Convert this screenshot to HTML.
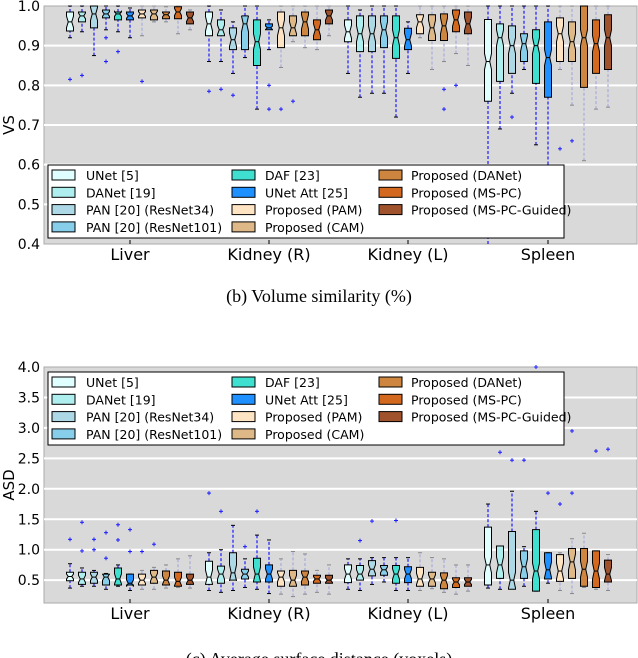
<!DOCTYPE html>
<html><head><meta charset="utf-8"><style>
body{margin:0;background:#fff;}
svg{display:block;font-family:"DejaVu Sans","Liberation Sans",sans-serif;}
.cap{font-family:"Liberation Serif",serif;font-size:18px;}
</style></head><body>
<svg id="c" width="638" height="658"></svg>
<script>
const categories=["Liver","Kidney (R)","Kidney (L)","Spleen"];
const methods=["UNet [5]","DANet [19]","PAN [20] (ResNet34)","PAN [20] (ResNet101)","DAF [23]","UNet Att [25]","Proposed (PAM)","Proposed (CAM)","Proposed (DANet)","Proposed (MS-PC)","Proposed (MS-PC-Guided)"];
const colors=["#e0ffff","#afeeee","#add8e6","#87ceeb","#40e0d0","#1e90ff","#ffe4c4","#deb887","#cd853f","#d2691e","#a0522d"];
// [lowWhisker,q1,median,q3,highWhisker,...outliers]
const vsLiver=[[.92,.937,.96,.985,1,.815],[.935,.96,.975,.985,1,.825],[.875,.945,.98,1,1],[.94,.97,.98,.99,1,.92,.86],[.935,.965,.98,.985,1,.885],[.92,.965,.975,.985,.995],[.925,.97,.98,.99,1,.81],[.96,.965,.98,.99,1],[.96,.968,.978,.985,.998],[.93,.968,.985,.998,1],[.94,.955,.97,.985,.99]];
const vsKidR=[[.86,.925,.955,.985,1,.785],[.86,.925,.94,.965,.99,.79],[.83,.89,.915,.945,.96,.775],[.87,.89,.955,.975,1],[.74,.85,.91,.965,1],[.89,.94,.945,.955,.965,.8,.74],[.845,.895,.945,.985,1,.74],[.91,.925,.945,.975,1,.76],[.895,.925,.96,.985,1],[.89,.915,.94,.965,1],[.925,.955,.975,.99,1]];
const vsKidL=[[.83,.91,.935,.965,1],[.77,.885,.93,.975,.99],[.78,.885,.93,.975,1],[.78,.895,.94,.975,1],[.72,.868,.92,.975,1],[.83,.89,.915,.944,.96],[.92,.93,.96,.978,1],[.84,.913,.945,.978,1],[.86,.913,.95,.98,1,.79,.74],[.88,.935,.965,.99,1,.8],[.85,.93,.955,.985,1]];
const vsSpleen=[[.4,.76,.86,.966,1],[.69,.81,.92,.955,1],[.78,.83,.9,.95,1,.72],[.84,.86,.905,.93,1],[.65,.805,.9,.94,1],[.55,.77,.87,.96,1],[.84,.86,.93,.97,1,.64],[.75,.86,.91,.96,1,.66],[.61,.795,.92,1,1],[.74,.83,.905,.965,1],[.745,.84,.92,.978,1]];
const asdLiver=[[.37,.49,.56,.63,.77,1.17],[.4,.43,.52,.63,.7,1.45,.98],[.4,.45,.55,.63,.66,1.17,1.0],[.35,.42,.55,.6,.61,1.28,.86],[.4,.42,.52,.7,.75,1.41,1.16],[.33,.42,.45,.6,.6,1.33,.97],[.35,.42,.5,.6,.66,.97],[.35,.45,.55,.66,.71,1.09],[.37,.42,.5,.65,.75],[.38,.4,.48,.63,.85],[.37,.43,.5,.6,.9]];
const asdKidR=[[.33,.43,.55,.81,.95,1.93],[.3,.45,.6,.73,1.0,1.63],[.33,.5,.62,.95,1.4],[.38,.52,.6,.68,.85,1.05],[.35,.47,.6,.86,1.24,1.63],[.28,.47,.6,.75,1.16],[.27,.4,.55,.65,.85],[.23,.4,.5,.66,.97],[.27,.42,.55,.65,.93],[.3,.45,.52,.58,.66],[.27,.45,.5,.58,.75]];
const asdKidL=[[.35,.46,.6,.75,.85],[.33,.5,.6,.74,.85,1.15],[.43,.57,.68,.82,.87,1.47],[.47,.58,.67,.74,.87],[.33,.45,.6,.74,.87,1.48],[.33,.46,.6,.72,.87],[.33,.4,.52,.71,.95],[.36,.4,.52,.63,.87],[.3,.36,.5,.62,.85],[.27,.38,.47,.54,.75],[.32,.4,.47,.54,.75]];
const asdSpleen=[[.37,.42,.75,1.37,1.75],[.35,.53,.75,1.06,1.06,2.6],[.37,.35,.5,1.3,1.96,2.47],[.4,.53,.72,.98,1.05,2.47],[.32,.32,.65,1.33,1.63,4.0],[.45,.52,.67,.95,.95,1.93,3.5],[.33,.48,.65,.92,.95,1.75],[.28,.53,.8,1.02,1.18,1.93,2.95],[.38,.4,.68,1.02,1.27],[.35,.38,.65,.98,.98,2.62],[.33,.47,.6,.83,.92,2.65]];
const vsTicks=[1.0,0.9,0.8,0.7,0.6,0.5,0.4];
const asdTicks=[4.0,3.5,3.0,2.5,2.0,1.5,1.0,0.5];

const NS="http://www.w3.org/2000/svg";
const svg=document.getElementById('c');
function el(t,a,p){const e=document.createElementNS(NS,t);for(const k in a)e.setAttribute(k,a[k]);(p||svg).appendChild(e);return e;}
const X0=44,X1=637,catX=[130,269,408,548],step=12,bw=7;
function panel(name,top,bot,vmax,vmin,ticks,data,ylabel,legY){
  const g=el('g',{});
  
  
  const y=v=>top+(vmax-v)/(vmax-vmin)*(bot-top);
  el('rect',{x:X0,y:top,width:X1-X0,height:bot-top,fill:'#d9d9d9',stroke:'#aaa'},g);
  ticks.forEach(t=>{
    if(t<vmax&&t>vmin){const l=el('line',{x1:X0,x2:X1,y1:y(t),y2:y(t),stroke:'#fff','stroke-width':2},g);
    }
    const tx=el('text',{x:40,y:y(t)+5,'text-anchor':'end','font-size':14,fill:'#000'},g);tx.textContent=t.toFixed(1);
    
  });
  const yl=el('text',{transform:`translate(14,${(top+bot)/2}) rotate(-90)`,'text-anchor':'middle','font-size':15},g);yl.textContent=ylabel;
  
  categories.forEach((c,ci)=>{
    const t=el('text',{x:catX[ci],y:bot+16,'text-anchor':'middle','font-size':16},g);t.textContent=c;
    
    el('line',{x1:catX[ci],x2:catX[ci],y1:bot,y2:bot-4,stroke:'#000'},g);
    data[ci].forEach((d,mi)=>{
      const cx=catX[ci]+(mi-5)*step;
      const wc=mi<6?'#1a1aff':'#a9a9dd';
      const bg=el('g',{},g);
      
      
      const clip=v=>Math.max(top,Math.min(bot,y(v)));
      el('line',{x1:cx,x2:cx,y1:clip(d[0]),y2:clip(d[1]),stroke:wc,'stroke-dasharray':'3,2','stroke-width':1.2},bg);
      el('line',{x1:cx,x2:cx,y1:clip(d[3]),y2:clip(d[4]),stroke:wc,'stroke-dasharray':'3,2','stroke-width':1.2},bg);
      [d[0],d[4]].forEach(v=>{if(v>vmin&&v<=vmax)el('line',{x1:cx-2,x2:cx+2,y1:y(v),y2:y(v),stroke:mi<6?'#000':'#888'},bg);});
      const q1=y(d[1]),q3=y(d[3]),m=y(d[2]),h=Math.min(Math.abs(q1-q3)*0.3,8),hw=bw/2,n=hw*0.5;
      const pts=[[cx-hw,q3],[cx+hw,q3],[cx+hw,m-h],[cx+n,m],[cx+hw,m+h],[cx+hw,q1],[cx-hw,q1],[cx-hw,m+h],[cx-n,m],[cx-hw,m-h]];
      el('polygon',{points:pts.map(p=>p.join(',')).join(' '),fill:colors[mi],stroke:'#000','stroke-width':1},bg);
      el('line',{x1:cx-n,x2:cx+n,y1:m,y2:m,stroke:'#000'},bg);
      d.slice(5).forEach(o=>{if(o>=vmin&&o<=vmax){const yy=y(o);
        el('line',{x1:cx-2,x2:cx+2,y1:yy,y2:yy,stroke:'#1a1aff'},bg);el('line',{x1:cx,x2:cx,y1:yy-2,y2:yy+2,stroke:'#1a1aff'},bg);}});
    });
  });
  const lg=el('g',{},g);
  
  
  el('rect',{x:48,y:legY,width:516,height:73,fill:'#fff',stroke:'#000'},lg);
  const cols=[[52,86],[232,265],[379,411]];
  methods.forEach((mname,i)=>{
    const col=Math.floor(i/4),row=i%4;const yy=legY+10+row*17.3;
    el('rect',{x:cols[col][0],y:yy-5,width:23,height:10,fill:colors[i],stroke:'#000'},lg);
    const t=el('text',{x:cols[col][1],y:yy+5,'font-size':12.5},lg);t.textContent=mname;
    
  });
}
panel('vs-panel',6,244,1.0,0.4,vsTicks,[vsLiver,vsKidR,vsKidL,vsSpleen],'VS',165);
panel('asd-panel',367,603,4.0,0.125,asdTicks,[asdLiver,asdKidR,asdKidL,asdSpleen],'ASD',372);
const c1=el('text',{x:319,y:302,'text-anchor':'middle',class:'cap'});c1.textContent='(b) Volume similarity (%)';

const c2=el('text',{x:319,y:665,'text-anchor':'middle',class:'cap'});c2.textContent='(c) Average surface distance (voxels)';

</script>
</body></html>
